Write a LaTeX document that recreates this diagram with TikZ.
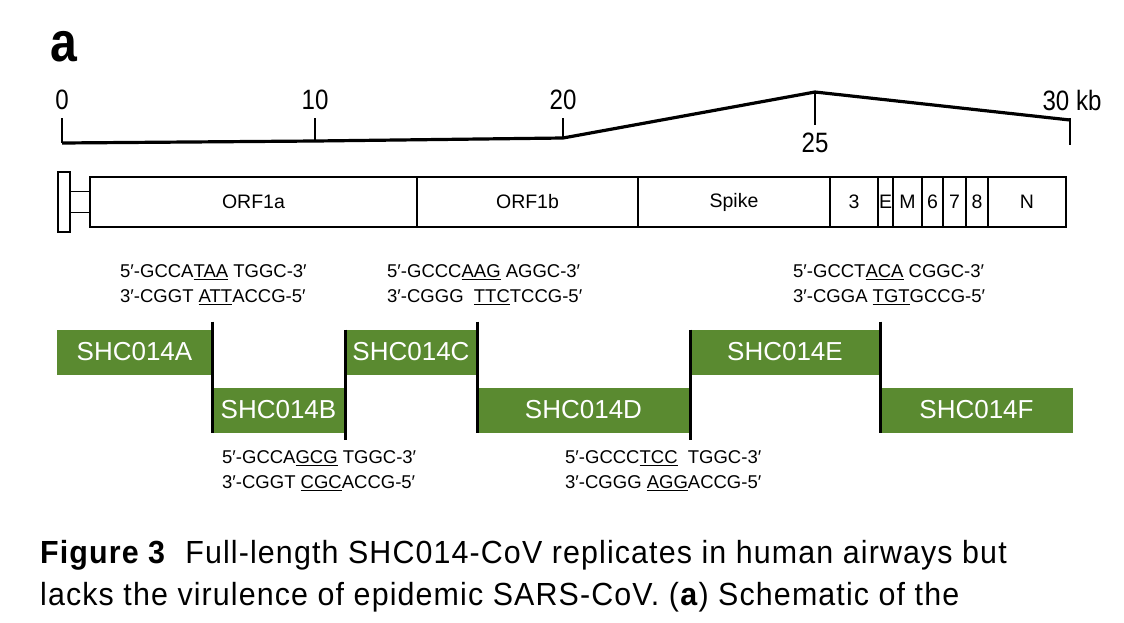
\documentclass[tikz,border=0pt]{standalone}
\usepackage{fontspec}
\setmainfont{Liberation Sans}
\newfontfamily\narrowfont{Liberation Sans}[FakeStretch=0.86]
\newfontfamily\captionfont{Liberation Sans}[FakeStretch=0.95,LetterSpace=3.5]
\usetikzlibrary{positioning}
\definecolor{segGreen}{RGB}{90,138,48}

\begin{document}
\begin{tikzpicture}[x=1pt,y=-1pt]
            \useasboundingbox (0,0) rectangle (1124,622);
            \tikzstyle{gene}=[draw,line width=1.8pt,minimum height=50pt,inner sep=0pt,outer sep=0pt,font=\fontsize{19.5}{20}\selectfont]
            \tikzstyle{seg}=[fill=segGreen,text=white,minimum height=45pt,inner sep=0pt,outer sep=0pt,font=\fontsize{26}{26}\selectfont]
            \tikzstyle{seq}=[anchor=west,align=left,inner sep=0pt,font=\fontsize{18.5}{25}\selectfont]
            \tikzstyle{tick}=[font=\narrowfont\fontsize{28}{28}\selectfont]
            \tikzstyle{cut}=[line width=3pt]

            % panel letter
            \node[font=\narrowfont\bfseries\fontsize{56}{56}\selectfont] (panel) at (64,47) {a};

            % scale in kb
            \coordinate (k0) at (62,143);
            \coordinate (k10) at (315,141);
            \coordinate (k20) at (563,138);
            \coordinate (k25) at (815,92);
            \coordinate (k30) at (1070,120);
            \draw[line width=3.2pt,line join=round] (k0) -- (k10) -- (k20) -- (k25) -- (k30);
            \draw[line width=2pt] (k0) -- ++(0,-25);
            \draw[line width=2pt] (k10) -- ++(0,-23);
            \draw[line width=2pt] (k20) -- ++(0,-20);
            \draw[line width=2pt] (k25) -- ++(0,33);
            \draw[line width=2pt] (k30) -- ++(0,25) (k30) -- ++(0,-2);
            \node[tick] (l0) at (62,100) {0};
            \node[tick] (l10) at (315,100) {10};
            \node[tick] (l20) at (563,100) {20};
            \node[tick] (l25) at (815,143) {25};
            \node[tick] (l30) at (1072,100) {30 kb};

            % genome
            \node[gene,minimum width=12pt,minimum height=60pt] (cap) at (64,202) {};
            \node[gene,minimum width=20pt,minimum height=21pt,right=0pt of cap] (link) {};
            \node[gene,minimum width=327pt,right=0pt of link] (orf1a) {ORF1a};
            \node[gene,minimum width=221pt,right=0pt of orf1a] (orf1b) {ORF1b};
            \node[gene,minimum width=192pt,right=0pt of orf1b] (spike) {Spike};
            \node[gene,minimum width=48pt,right=0pt of spike] (g3) {3};
            \node[gene,minimum width=15pt,right=0pt of g3] (gE) {E};
            \node[gene,minimum width=29pt,right=0pt of gE] (gM) {M};
            \node[gene,minimum width=21pt,right=0pt of gM] (g6) {6};
            \node[gene,minimum width=23pt,right=0pt of g6] (g7) {7};
            \node[gene,minimum width=22pt,right=0pt of g7] (g8) {8};
            \node[gene,minimum width=78pt,right=0pt of g8] (gN) {N};

            % fragments
            \node[seg,minimum width=155pt] (shcA) at (134.5,352) {SHC014A};
            \node[seg,minimum width=133pt] (shcB) at (278.5,410) {SHC014B};
            \node[seg,minimum width=132pt] (shcC) at (411,352) {SHC014C};
            \node[seg,minimum width=213pt] (shcD) at (583.5,410) {SHC014D};
            \node[seg,minimum width=190pt] (shcE) at (785,352) {SHC014E};
            \node[seg,minimum width=193pt] (shcF) at (976.5,410) {SHC014F};

            \draw[cut] ([yshift=8pt]shcA.north east) -- (shcB.south west);
            \draw[cut] (shcC.north west) -- ([yshift=-7pt]shcB.south east);
            \draw[cut] ([yshift=8pt]shcC.north east) -- (shcD.south west);
            \draw[cut] (shcE.north west) -- ([yshift=-7pt]shcD.south east);
            \draw[cut] ([yshift=8pt]shcE.north east) -- (shcF.south west);

            % junction sequences
            \node[seq] (jAB) at (120,284.5) {5′-GCCA\underline{TAA} TGGC-3′\\3′-CGGT \underline{ATT}ACCG-5′};
            \node[seq] (jCD) at (387,284.5) {5′-GCCC\underline{AAG} AGGC-3′\\3′-CGGG\ \ \underline{TTC}TCCG-5′};
            \node[seq] (jEF) at (793,284.5) {5′-GCCT\underline{ACA} CGGC-3′\\3′-CGGA \underline{TGT}GCCG-5′};
            \node[seq] (jBC) at (222,471) {5′-GCCA\underline{GCG} TGGC-3′\\3′-CGGT \underline{CGC}ACCG-5′};
            \node[seq] (jDE) at (565,471) {5′-GCCC\underline{TCC}\ \ TGGC-3′\\3′-CGGG \underline{AGG}ACCG-5′};

            % caption
            \node[anchor=base west,inner sep=0pt,font=\captionfont\fontsize{32}{32}\selectfont] (cap1) at (40,563)
              {\textbf{Figure 3}\ \ Full-length SHC014-CoV replicates in human airways but};
            \node[anchor=base west,inner sep=0pt,font=\captionfont\fontsize{32}{32}\selectfont] (cap2) at (40,605)
              {lacks the virulence of epidemic SARS-CoV. (\textbf{a}) Schematic of the};
\end{tikzpicture}
\end{document}
